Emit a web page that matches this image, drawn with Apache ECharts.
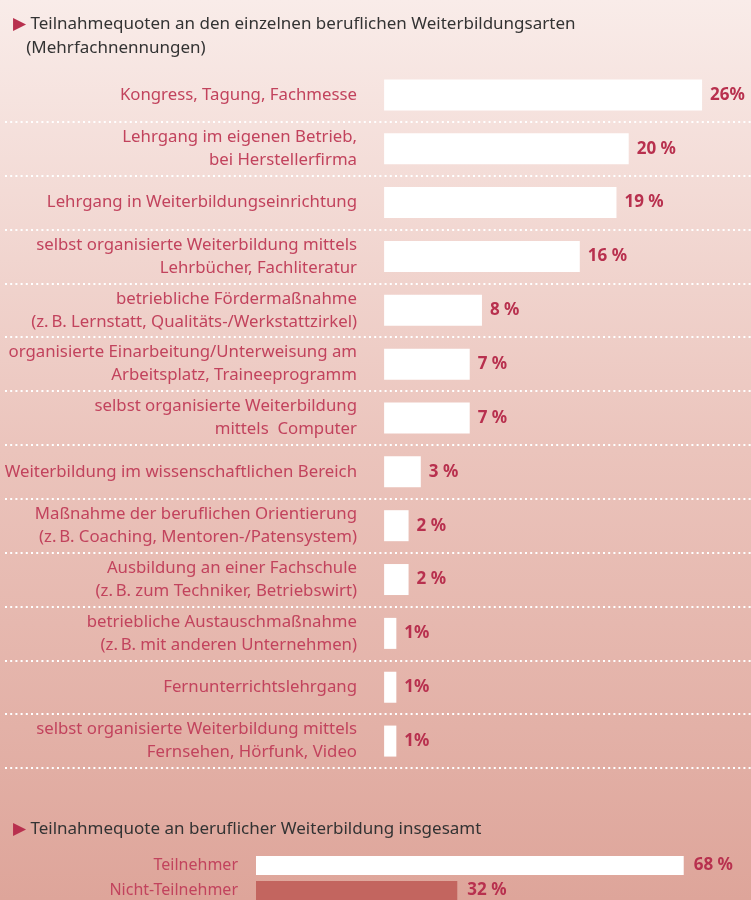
<!DOCTYPE html>
<html>
<head>
<meta charset="utf-8">
<script src="https://cdn.jsdelivr.net/npm/echarts@6/dist/echarts.min.js"></script>
<style>
  html, body { margin: 0; padding: 0; }
  #main { width: 751px; height: 900px; }
</style>
</head>
<body>
<div id="main"></div>
<script>
// Weiterbildungsarten (Mehrfachnennungen)
var categories = [
  'Kongress, Tagung, Fachmesse',
  'Lehrgang im eigenen Betrieb,\nbei Herstellerfirma',
  'Lehrgang in Weiterbildungseinrichtung',
  'selbst organisierte Weiterbildung mittels\nLehrbücher, Fachliteratur',
  'betriebliche Fördermaßnahme\n(z.\u2009B. Lernstatt, Qualitäts-/Werkstattzirkel)',
  'organisierte Einarbeitung/Unterweisung am\nArbeitsplatz, Traineeprogramm',
  'selbst organisierte Weiterbildung\nmittels  Computer',
  'Weiterbildung im wissenschaftlichen Bereich',
  'Maßnahme der beruflichen Orientierung\n(z.\u2009B. Coaching, Mentoren-/Patensystem)',
  'Ausbildung an einer Fachschule\n(z.\u2009B. zum Techniker, Betriebswirt)',
  'betriebliche Austauschmaßnahme\n(z.\u2009B. mit anderen Unternehmen)',
  'Fernunterrichtslehrgang',
  'selbst organisierte Weiterbildung mittels\nFernsehen, Hörfunk, Video'
];
var values = [26, 20, 19, 16, 8, 7, 7, 3, 2, 2, 1, 1, 1];
var valueLabels = ['26%', '20 %', '19 %', '16 %', '8 %', '7 %', '7 %',
  '3 %', '2 %', '2 %', '1%', '1%', '1%'];

// insgesamt
var totalCategories = ['Teilnehmer', 'Nicht-Teilnehmer'];
var totalValues = [68, 32];
var totalLabels = ['68 %', '32 %'];

var labelColor = '#c2435d';
var valueColor = '#b8304e';
var font = 'Noto Sans';

var chart = echarts.init(document.getElementById('main'));

chart.setOption({
  animation: false,
  backgroundColor: {
    type: 'linear', x: 0, y: 0, x2: 0, y2: 1,
    colorStops: [
      { offset: 0, color: '#f9ece9' },
      { offset: 0.5, color: '#ebc4bc' },
      { offset: 1, color: '#dea59a' }
    ]
  },
  title: [{
    left: 8, top: 7,
    text: '{tri|\u25B6} Teilnahmequoten an den einzelnen beruflichen Weiterbildungsarten\n   (Mehrfachnennungen)',
    textStyle: {
      fontFamily: font, fontSize: 17, fontWeight: 'normal', color: '#333', lineHeight: 24,
      rich: { tri: { color: '#b8304e', fontSize: 17 } }
    }
  }, {
    left: 8, top: 816,
    text: '{tri|\u25B6} Teilnahmequote an beruflicher Weiterbildung insgesamt',
    textStyle: {
      fontFamily: font, fontSize: 17, fontWeight: 'normal', color: '#333',
      rich: { tri: { color: '#b8304e', fontSize: 17 } }
    }
  }],
  grid: [
    { left: 5, right: 0, top: 68, height: 700, outerBoundsMode: 'none', containLabel: false },
    { left: 256, width: 629, top: 853, height: 50, outerBoundsMode: 'none', containLabel: false }
  ],
  xAxis: [{
    gridIndex: 0, type: 'value', min: -31, max: 30,
    show: false
  }, {
    gridIndex: 1, type: 'value', min: 0, max: 100,
    show: false
  }],
  yAxis: [{
    gridIndex: 0, type: 'category', data: categories, inverse: true,
    position: 'left', offset: -379,
    axisLine: { show: false, onZero: false },
    axisTick: { show: false },
    axisLabel: {
      margin: 27, fontFamily: font, fontSize: 16.8, color: labelColor, lineHeight: 23, align: 'right'
    },
    splitLine: {
      show: true,
      interval: function (i) { return i > 0; },
      lineStyle: { color: '#ffffff', width: 2.2, type: [2, 3.2] }
    }
  }, {
    gridIndex: 1, type: 'category', data: totalCategories, inverse: true,
    axisLine: { show: false },
    axisTick: { show: false },
    axisLabel: { margin: 18, fontFamily: font, fontSize: 16, color: labelColor }
  }],
  series: [{
    type: 'bar', xAxisIndex: 0, yAxisIndex: 0,
    data: values,
    barWidth: 31,
    itemStyle: { color: '#ffffff' },
    label: {
      show: true, position: 'right', distance: 8,
      fontFamily: font, fontSize: 17, fontWeight: 'bold', color: valueColor,
      formatter: function (p) { return valueLabels[p.dataIndex]; }
    }
  }, {
    type: 'bar', xAxisIndex: 1, yAxisIndex: 1,
    data: totalValues.map(function (v, i) {
      return { value: v, itemStyle: { color: i === 0 ? '#ffffff' : '#c3655f' } };
    }),
    barWidth: 19,
    label: {
      show: true, position: 'right', distance: 10,
      fontFamily: font, fontSize: 17, fontWeight: 'bold', color: valueColor,
      formatter: function (p) { return totalLabels[p.dataIndex]; }
    }
  }]
});
</script>
</body>
</html>
